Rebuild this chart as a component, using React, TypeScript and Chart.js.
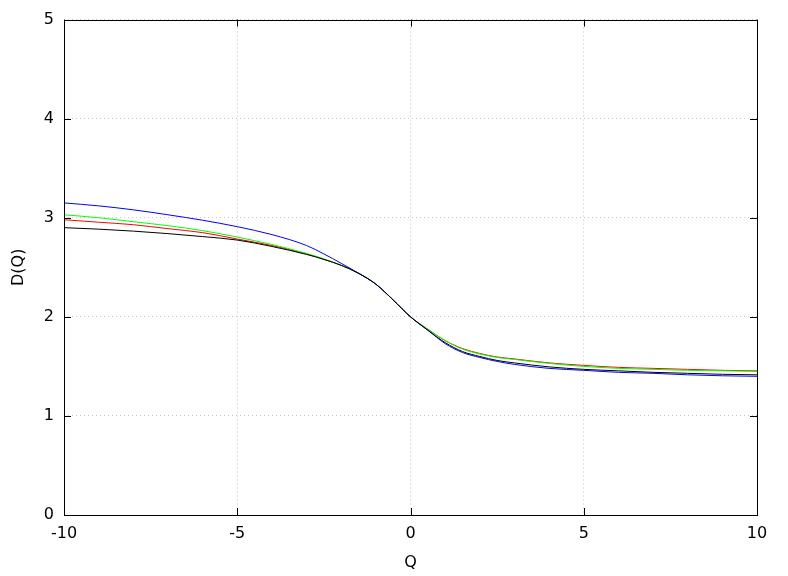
import React, { useEffect, useRef } from "react";
import { Chart, registerables } from "chart.js";

Chart.register(...registerables);

const qValues = [-10, -9, -8, -7, -6, -5, -4, -3, -2.5, -2, -1.5, -1, -0.5, 0, 0.5, 1, 1.5, 2, 2.5, 3, 4, 5, 6, 7, 8, 9, 10];

const redD = [2.98, 2.955, 2.93, 2.89, 2.85, 2.785, 2.72, 2.635, 2.58, 2.52, 2.44, 2.33, 2.17, 2.0, 1.875, 1.76, 1.68, 1.63, 1.595, 1.575, 1.535, 1.51, 1.49, 1.48, 1.47, 1.46, 1.455];
const greenD = [3.03, 3.0, 2.96, 2.92, 2.87, 2.805, 2.73, 2.64, 2.585, 2.52, 2.44, 2.33, 2.17, 2.0, 1.875, 1.76, 1.675, 1.625, 1.59, 1.57, 1.53, 1.5, 1.48, 1.47, 1.46, 1.455, 1.45];
const blueD = [3.15, 3.12, 3.08, 3.03, 2.975, 2.91, 2.83, 2.72, 2.635, 2.54, 2.44, 2.33, 2.17, 2.0, 1.865, 1.73, 1.64, 1.59, 1.55, 1.52, 1.48, 1.46, 1.44, 1.43, 1.415, 1.405, 1.4];
const blackD = [2.9, 2.885, 2.865, 2.84, 2.81, 2.775, 2.71, 2.63, 2.58, 2.52, 2.44, 2.33, 2.17, 2.0, 1.865, 1.74, 1.65, 1.6, 1.56, 1.535, 1.495, 1.47, 1.455, 1.44, 1.43, 1.42, 1.415];

const xTicks = [-10, -5, 0, 5, 10];
const yTicks = [0, 1, 2, 3, 4, 5];

const FONT = { family: "'DejaVu Sans', sans-serif", size: 16 };

const toPoints = (ys: number[]) => qValues.map((q, i) => ({ x: q, y: ys[i] }));

const framePlugin = {
  id: "frameTicks",
  afterDatasetsDraw(chart: any) {
    const { ctx, chartArea, scales } = chart;
    const { left, right, top, bottom } = chartArea;
    const len = 7;
    ctx.save();
    ctx.strokeStyle = "#000";
    ctx.lineWidth = 1;
    ctx.beginPath();
    for (const v of xTicks) {
      const px = Math.round(scales.x.getPixelForValue(v)) + 0.5;
      ctx.moveTo(px, bottom);
      ctx.lineTo(px, bottom - len);
      ctx.moveTo(px, top);
      ctx.lineTo(px, top + len);
    }
    for (const v of yTicks) {
      const py = Math.round(scales.y.getPixelForValue(v)) + 0.5;
      ctx.moveTo(left, py);
      ctx.lineTo(left + len, py);
      ctx.moveTo(right, py);
      ctx.lineTo(right - len, py);
    }
    ctx.stroke();
    ctx.strokeRect(Math.round(left) + 0.5, Math.round(top) + 0.5, Math.round(right - left), Math.round(bottom - top));
    ctx.restore();
  },
};

export default function App() {
  const ref = useRef<HTMLCanvasElement>(null);
  useEffect(() => {
    if (!ref.current) return;
    const mk = (label: string, ys: number[], color: string) => ({
      label,
      data: toPoints(ys),
      borderColor: color,
      backgroundColor: color,
      borderWidth: 1,
      pointRadius: 0,
      fill: false,
      cubicInterpolationMode: "monotone" as const,
    });
    const chart = new Chart(ref.current, {
      type: "line",
      data: {
        datasets: [
          mk("black", blackD, "#000000"),
          mk("blue", blueD, "#0000ff"),
          mk("green", greenD, "#00ff00"),
          mk("red", redD, "#ff0000"),
        ],
      },
      options: {
        responsive: false,
        animation: false,
        layout: { padding: { top: 18, right: 31, left: 0, bottom: 0 } },
        plugins: { legend: { display: false }, tooltip: { enabled: false } },
        scales: {
          x: {
            type: "linear",
            min: -10,
            max: 10,
            afterFit: (s: any) => { s.height = 61; },
            afterBuildTicks: (s: any) => { s.ticks = xTicks.map((v) => ({ value: v })); },
            ticks: { font: FONT, color: "#000", padding: 9, maxRotation: 0 },
            grid: { color: "#c8c8c8", drawTicks: false, lineWidth: 1 },
            border: { display: false, dash: [1, 3] },
            title: { display: true, text: "Q", font: FONT, color: "#000", padding: { top: 4, bottom: 4 } },
          },
          y: {
            type: "linear",
            min: 0,
            max: 5,
            afterFit: (s: any) => { s.width = 64; },
            afterBuildTicks: (s: any) => { s.ticks = yTicks.map((v) => ({ value: v })); },
            ticks: { font: FONT, color: "#000", padding: 10 },
            grid: { color: "#c8c8c8", drawTicks: false, lineWidth: 1 },
            border: { display: false, dash: [1, 3] },
            title: { display: true, text: "D(Q)", font: FONT, color: "#000", padding: { top: 9, bottom: 0 } },
          },
        },
      },
      plugins: [framePlugin],
    });
    return () => chart.destroy();
  }, []);
  return (
    <div style={{ position: "absolute", left: 0, top: 0, width: 788, height: 576, background: "#fff" }}>
      <canvas ref={ref} width={788} height={576} style={{ display: "block" }} />
    </div>
  );
}
